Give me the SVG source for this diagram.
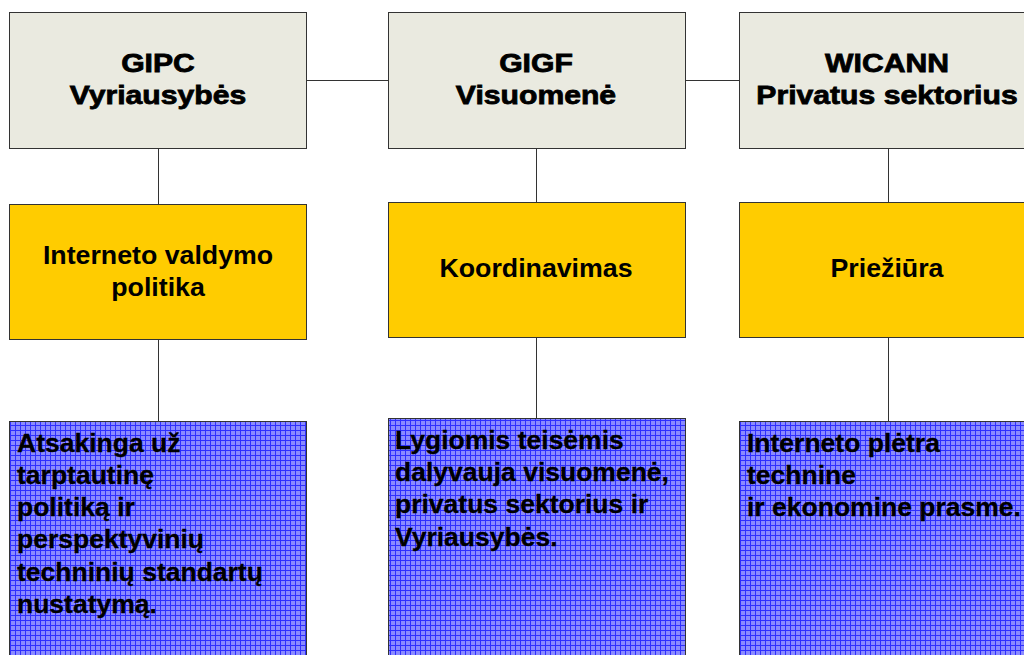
<svg xmlns="http://www.w3.org/2000/svg" width="1024" height="655" viewBox="0 0 1024 655">
  <defs>
    <pattern id="grid" patternUnits="userSpaceOnUse" width="5" height="5">
      <rect width="5" height="5" fill="#8a8aff"/>
      <path d="M0 0.5H5M0.5 0V5" stroke="#2f2fff" stroke-width="1" fill="none"/>
    </pattern>
  </defs>
  <style>
    .box { stroke: #333; stroke-width: 1; }
    .top { fill: #eaeae0; }
    .mid { fill: #ffcc00; }
    .low { fill: url(#grid); }
    .lbl { font-family: "Liberation Sans", Arial, sans-serif; font-weight: bold; fill: #000; }
    .head { font-size: 26px; text-anchor: middle; stroke: #000; stroke-width: 0.8; }
    .role { font-size: 25px; text-anchor: middle; }
    .desc { font-size: 26.5px; stroke: #000; stroke-width: 0.3; }
    .wire { stroke: #333; stroke-width: 1; fill: none; }
  </style>
  <rect width="1024" height="655" fill="#fff"/>

  <g id="connectors">
    <path class="wire" d="M306 80.5H388M685 80.5H739"/>
    <path class="wire" d="M158.5 148V204M158.5 339V421"/>
    <path class="wire" d="M536.5 148V202M536.5 337V418"/>
    <path class="wire" d="M888.5 148V202M888.5 337V421"/>
  </g>

  <g id="gipc">
    <rect class="box top" x="9.5" y="12.5" width="297" height="136"/>
    <g transform="translate(158 0) scale(1.16 1)">
      <text class="lbl head" x="0" y="72">GIPC</text>
      <text class="lbl head" x="0" y="104">Vyriausybės</text>
    </g>
  </g>
  <g id="gigf">
    <rect class="box top" x="388.5" y="12.5" width="297" height="136"/>
    <g transform="translate(536 0) scale(1.16 1)">
      <text class="lbl head" x="0" y="72">GIGF</text>
      <text class="lbl head" x="0" y="104">Visuomenė</text>
    </g>
  </g>
  <g id="wicann">
    <rect class="box top" x="739.5" y="12.5" width="297" height="136"/>
    <g transform="translate(887 0) scale(1.16 1)">
      <text class="lbl head" x="0" y="72">WICANN</text>
      <text class="lbl head" x="0" y="104">Privatus sektorius</text>
    </g>
  </g>

  <g id="politika">
    <rect class="box mid" x="9.5" y="204.5" width="297" height="135"/>
    <g transform="translate(158 0) scale(1.07 1)">
      <text class="lbl role" x="0" y="264">Interneto valdymo</text>
      <text class="lbl role" x="0" y="296">politika</text>
    </g>
  </g>
  <g id="koordinavimas">
    <rect class="box mid" x="388.5" y="202.5" width="297" height="135"/>
    <g transform="translate(536 0) scale(1.07 1)">
      <text class="lbl role" x="0" y="277">Koordinavimas</text>
    </g>
  </g>
  <g id="prieziura">
    <rect class="box mid" x="739.5" y="202.5" width="297" height="135"/>
    <g transform="translate(887 0) scale(1.07 1)">
      <text class="lbl role" x="0" y="277">Priežiūra</text>
    </g>
  </g>

  <g id="atsakinga">
    <rect class="box low" x="9.5" y="421.5" width="297" height="240"/>
    <text class="lbl desc">
      <tspan x="17" y="452">Atsakinga už</tspan>
      <tspan x="17" y="484">tarptautinę</tspan>
      <tspan x="17" y="516">politiką ir</tspan>
      <tspan x="17" y="548">perspektyvinių</tspan>
      <tspan x="17" y="581">techninių standartų</tspan>
      <tspan x="17" y="613">nustatymą.</tspan>
    </text>
  </g>
  <g id="lygiomis">
    <rect class="box low" x="388.5" y="418.5" width="297" height="240"/>
    <text class="lbl desc">
      <tspan x="395" y="449">Lygiomis teisėmis</tspan>
      <tspan x="395" y="481">dalyvauja visuomenė,</tspan>
      <tspan x="395" y="513">privatus sektorius ir</tspan>
      <tspan x="395" y="546">Vyriausybės.</tspan>
    </text>
  </g>
  <g id="pletra">
    <rect class="box low" x="739.5" y="421.5" width="297" height="240"/>
    <text class="lbl desc">
      <tspan x="747" y="452">Interneto plėtra</tspan>
      <tspan x="747" y="484">technine</tspan>
      <tspan x="747" y="516">ir ekonomine prasme.</tspan>
    </text>
  </g>
</svg>
